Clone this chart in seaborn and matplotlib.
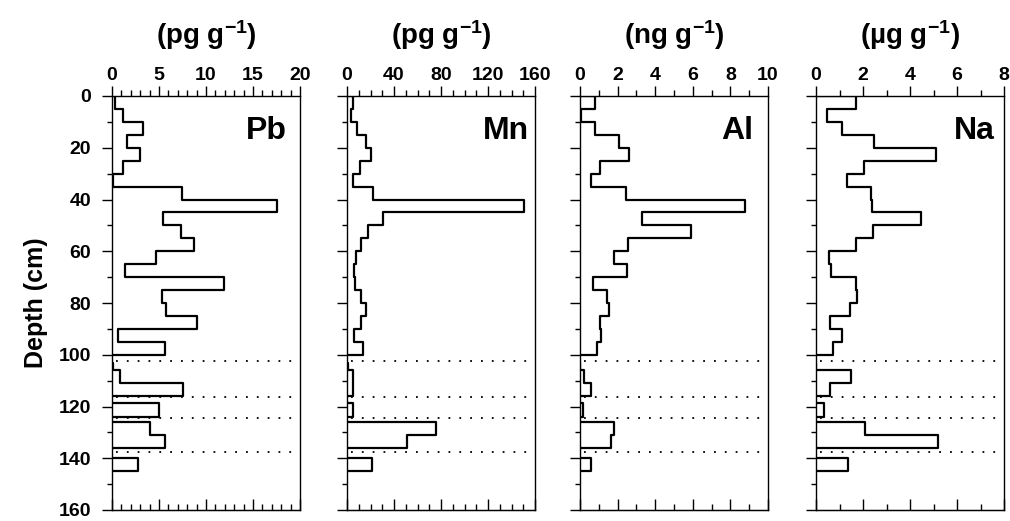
import pandas as pd
import seaborn as sns
import matplotlib.pyplot as plt
from matplotlib import font_manager
from matplotlib.ticker import MultipleLocator

# depth slices (cm): upper core in 5 cm steps, lower sections between dotted breaks
upper_edges = [0, 5, 10, 15, 20, 25, 30, 35, 40, 45, 50,
               55, 60, 65, 70, 75, 80, 85, 90, 95, 100]
lower_edges = [[103, 106, 111, 116], [118.5, 124], [126, 131, 136], [140, 145]]
break_depths = [102.5, 116.5, 124.5, 137.5]

pb_upper = [0.35, 1.2, 3.3, 1.6, 3.0, 1.2, 0.1, 7.4, 17.5, 5.4,
            7.3, 8.7, 4.7, 1.35, 11.9, 5.3, 5.7, 9.0, 0.6, 5.6]
pb_lower = [[0.1, 0.9, 7.6], [5.0], [4.0, 5.6], [2.8]]

mn_upper = [5.1, 3.4, 8.5, 16.2, 20.5, 10.8, 5.1, 22.2, 150.3, 30.7,
            17.6, 12.0, 8.0, 6.3, 7.1, 12.2, 16.5, 12.2, 5.7, 13.4]
mn_lower = [[0.8, 5.0, 5.0], [5.0], [75.6, 51.2], [21.3]]

al_upper = [0.81, 0.05, 0.81, 2.08, 2.6, 1.06, 0.58, 2.43, 8.8, 3.31,
            5.9, 2.57, 1.81, 2.52, 0.67, 1.41, 1.55, 1.06, 1.14, 0.93]
al_lower = [[0.0, 0.2, 0.6], [0.14], [1.8, 1.63], [0.58]]

na_upper = [1.71, 0.46, 1.11, 2.47, 5.1, 2.04, 1.32, 2.33, 2.37, 4.48,
            2.43, 1.72, 0.57, 0.63, 1.72, 1.75, 1.44, 0.6, 1.1, 0.72]
na_lower = [[0.0, 1.5, 0.6], [0.32], [2.07, 5.2], [1.35]]

elements = ["Pb", "Mn", "Al", "Na"]
units = [r"(pg g$^{-1}$)", r"(pg g$^{-1}$)", r"(ng g$^{-1}$)", r"(µg g$^{-1}$)"]
uppers = [pb_upper, mn_upper, al_upper, na_upper]
lowers = [pb_lower, mn_lower, al_lower, na_lower]
x_max = [20, 160, 10, 8]
x_major = [5, 40, 2, 2]
x_minor = [1, 10, 1, 1]
label_x = [0.93, 0.97, 0.92, 0.95]
panel_left = [112, 347, 580, 816]

sns.set_style("ticks")
installed = {f.name for f in font_manager.fontManager.ttflist}
fam = "Liberation Sans Narrow" if "Liberation Sans Narrow" in installed else "Liberation Sans"
plt.rcParams["font.family"] = [fam, "DejaVu Sans"]
plt.rcParams["font.weight"] = "bold"
plt.rcParams["mathtext.fontset"] = "custom"
plt.rcParams["mathtext.default"] = "bf"
plt.rcParams["mathtext.bf"] = fam + ":bold"
plt.rcParams["mathtext.rm"] = fam + ":bold"
for key in ["text.color", "axes.labelcolor", "axes.edgecolor", "xtick.color", "ytick.color"]:
    plt.rcParams[key] = "black"


def profile_frame(upper, lower):
    # closed step outline for each section, starting and ending on the axis
    rows = []
    sections = [(upper_edges, upper)] + list(zip(lower_edges, lower))
    for seg, (edges, vals) in enumerate(sections):
        rows.append((seg, 0, edges[0]))
        for i, v in enumerate(vals):
            rows.append((seg, v, edges[i]))
            rows.append((seg, v, edges[i + 1]))
        rows.append((seg, 0, edges[-1]))
    return pd.DataFrame(rows, columns=["seg", "value", "depth"])


W, H = 1010, 521
fig = plt.figure(figsize=(W / 100, H / 100), dpi=100)
top, bottom = 96, 510

for k, el in enumerate(elements):
    ax = fig.add_axes([panel_left[k] / W, 1 - bottom / H, 188 / W, (bottom - top) / H])
    df = profile_frame(uppers[k], lowers[k])
    sns.lineplot(data=df, x="value", y="depth", units="seg", estimator=None,
                 sort=False, color="black", lw=1.6, ax=ax, legend=False)
    for d in break_depths:
        ax.axhline(d, xmin=0.02, xmax=0.97, color="black", lw=1.3, ls=(0, (1, 5)))

    ax.set_xlim(0, x_max[k])
    ax.set_ylim(160, 0)
    ax.set_xlabel("")
    ax.set_ylabel("")

    ax.xaxis.tick_top()
    ax.xaxis.set_major_locator(MultipleLocator(x_major[k]))
    ax.xaxis.set_minor_locator(MultipleLocator(x_minor[k]))
    ax.tick_params(axis="x", which="major", direction="out", length=7, width=1,
                   labelsize=14, pad=2, top=True, bottom=False)
    ax.tick_params(axis="x", which="minor", direction="out", length=4, width=1,
                   top=True, bottom=False)

    sec = ax.secondary_xaxis("bottom")
    sec.xaxis.set_major_locator(MultipleLocator(x_major[k]))
    sec.xaxis.set_minor_locator(MultipleLocator(x_minor[k]))
    sec.tick_params(axis="x", which="major", direction="in", length=8, width=1,
                    labelbottom=False)
    sec.tick_params(axis="x", which="minor", direction="in", length=4, width=1)

    ax.yaxis.set_major_locator(MultipleLocator(20))
    ax.yaxis.set_minor_locator(MultipleLocator(10))
    ax.tick_params(axis="y", which="major", direction="out", length=7, width=1,
                   labelsize=14, pad=8, left=True, right=False,
                   labelleft=(k == 0))
    ax.tick_params(axis="y", which="minor", direction="out", length=3.5, width=1,
                   left=True, right=False)
    for lab in ax.get_xticklabels() + ax.get_yticklabels():
        lab.set_fontweight("bold")
    for sp in ax.spines.values():
        sp.set_linewidth(1)
        sp.set_visible(True)

    ax.text(label_x[k], 0.952, el, transform=ax.transAxes, ha="right", va="top",
            fontsize=23, fontweight="bold")
    ax.text(0.5, 1.146, units[k], transform=ax.transAxes, ha="center", va="center",
            fontsize=20, fontweight="bold")
    if k == 0:
        ax.set_ylabel("Depth (cm)", fontsize=18, fontweight="bold", labelpad=8)

fig.savefig("out.png", dpi=100)
